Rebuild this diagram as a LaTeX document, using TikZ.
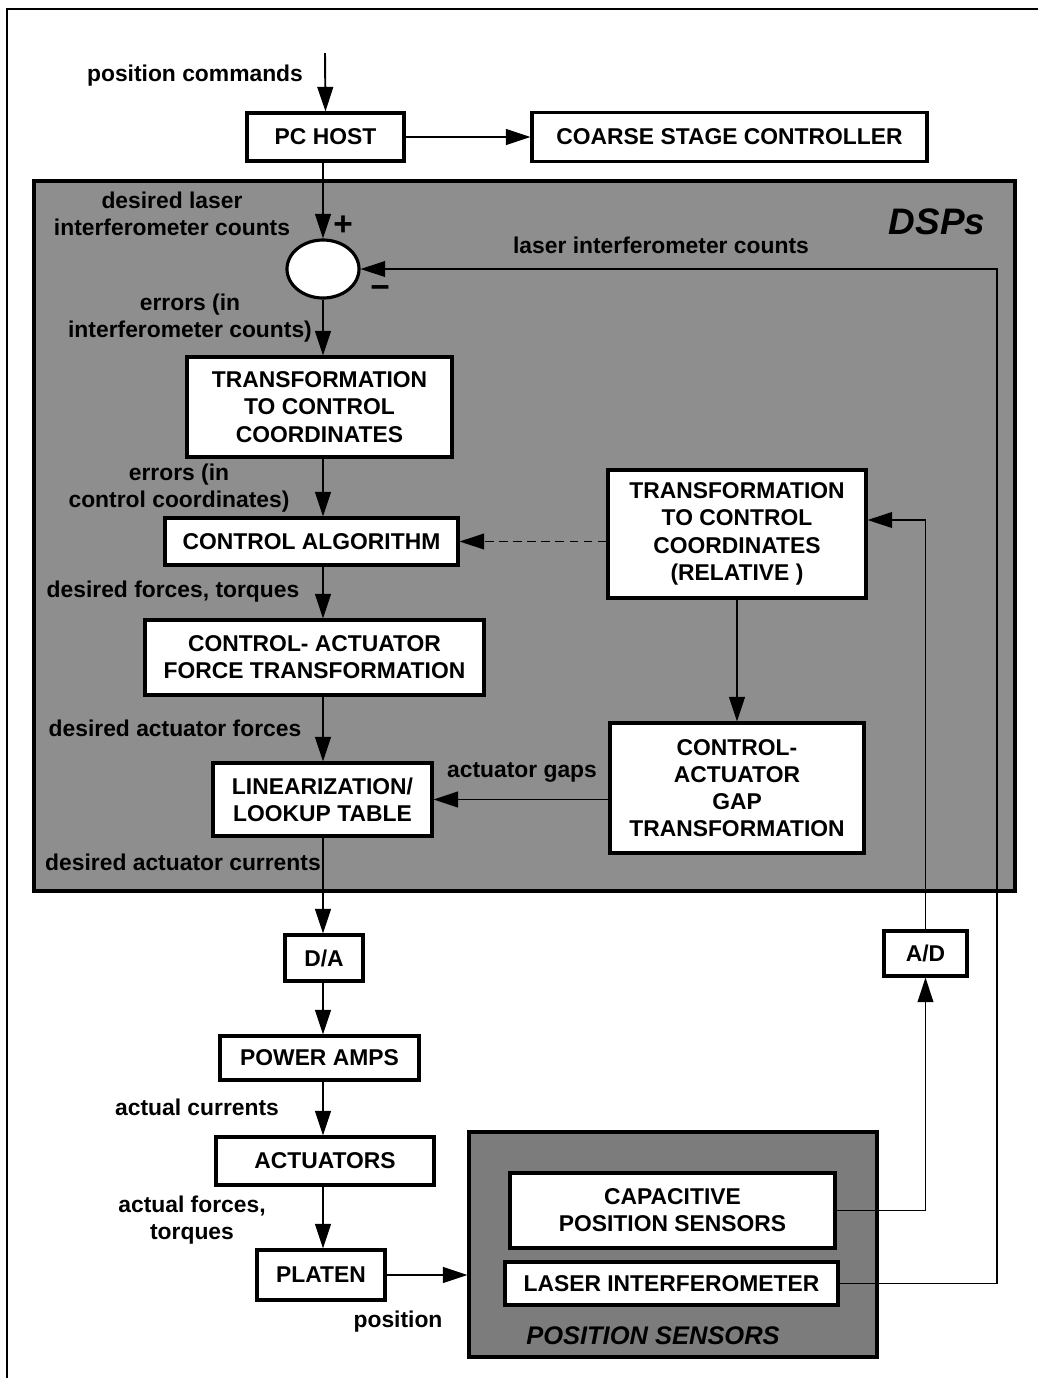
\documentclass[tikz,border=0pt]{standalone}
\usepackage{fontspec}
\setmainfont{Liberation Sans}
\usepackage{tikz}
\usetikzlibrary{arrows.meta,shapes.geometric}
\definecolor{dspgrey}{HTML}{8E8E8E}
\definecolor{sensgrey}{HTML}{7C7C7C}

\begin{document}
\begin{tikzpicture}[
  x=0.2mm, y=-0.2mm,
  font=\bfseries\fontsize{13}{15.5}\selectfont,
  box/.style={draw, line width=1.8pt, fill=white, align=center, inner sep=0pt},
  panel/.style={draw, line width=1.8pt, inner sep=0pt},
  lbl/.style={align=center, inner sep=0pt},
  sign/.style={inner sep=0pt, font=\bfseries\fontsize{19}{19}\selectfont},
  arrow/.style={-{Triangle[length=14pt,width=9pt]}, line width=1.1pt},
  feedback/.style={arrow, line width=0.8pt},
]
\useasboundingbox (0,0) rectangle (1038,1378);
\draw[line width=1.3pt] (1038,9) -| (7,1378);

% grey panels
\node[panel, fill=dspgrey, minimum width=196.2mm, minimum height=142mm] (dsp) at (524.5,536) {};
\node[font=\bfseries\itshape\fontsize{21}{24}\selectfont] (dsplbl) at (937,222) {DSPs};
\node[panel, fill=sensgrey, minimum width=81.6mm, minimum height=45mm] (sens) at (673,1244.5) {};
\node[font=\bfseries\itshape\fontsize{14.5}{17}\selectfont] (senslbl) at (653,1336) {POSITION SENSORS};

% blocks
\node[box, minimum width=31.4mm, minimum height=9.6mm] (pchost) at (325.5,137) {PC HOST};
\node[box, minimum width=79mm, minimum height=9.8mm] (coarse) at (729.5,137) {COARSE STAGE CONTROLLER};
\node[box, ellipse, minimum width=14.4mm, minimum height=11.6mm] (sum) at (323,269) {};
\node[box, minimum width=53mm, minimum height=20mm] (tcc) at (319.5,407)
  {TRANSFORMATION\\TO CONTROL\\COORDINATES};
\node[box, minimum width=58.6mm, minimum height=9.4mm] (ctrl) at (311.5,541.5) {CONTROL ALGORITHM};
\node[box, minimum width=67.8mm, minimum height=15mm] (caft) at (314.5,657.5)
  {CONTROL- ACTUATOR\\FORCE TRANSFORMATION};
\node[box, minimum width=43.8mm, minimum height=14.6mm] (lin) at (322.5,799.5)
  {LINEARIZATION/\\LOOKUP TABLE};
\node[box, minimum width=51.6mm, minimum height=25.6mm] (tccrel) at (737,534)
  {TRANSFORMATION\\TO CONTROL\\COORDINATES\\(RELATIVE )};
\node[box, minimum width=50.8mm, minimum height=26mm] (gap) at (737,788)
  {CONTROL-\\ACTUATOR\\GAP\\TRANSFORMATION};
\node[box, minimum width=15.6mm, minimum height=9.2mm] (da) at (324,958) {D/A};
\node[box, minimum width=16.6mm, minimum height=9mm] (ad) at (925.5,953.5) {A/D};
\node[box, minimum width=39.8mm, minimum height=8.8mm] (amps) at (319.5,1058) {POWER AMPS};
\node[box, minimum width=43.6mm, minimum height=9.6mm] (act) at (325,1161) {ACTUATORS};
\node[box, minimum width=25.6mm, minimum height=10mm] (platen) at (321,1275) {PLATEN};
\node[box, minimum width=65mm, minimum height=15mm] (cap) at (672.5,1210.5)
  {CAPACITIVE\\POSITION SENSORS};
\node[box, minimum width=66.6mm, minimum height=8.6mm] (laser) at (671.5,1283.5) {LASER INTERFEROMETER};

% signal labels
\node[lbl] (cmdlbl) at (195,76) {position commands};
\node[lbl] (deslbl) at (172,214) {desired laser\\interferometer counts};
\node[sign] (plus) at (343,226) {+};
\node[sign] (minus) at (380,292) {\textminus};
\node[lbl] (fblbl) at (661,245) {laser interferometer counts};
\node[lbl] (err1lbl) at (190,318) {errors (in\\interferometer counts)};
\node[lbl] (err2lbl) at (179,488) {errors (in\\control coordinates)};
\node[lbl] (frclbl) at (173,592) {desired forces, torques};
\node[lbl] (daflbl) at (175,728) {desired actuator forces};
\node[lbl] (gaplbl) at (522,772) {actuator gaps};
\node[lbl] (daclbl) at (183,862) {desired actuator currents};
\node[lbl] (curlbl) at (197,1107) {actual currents};
\node[lbl] (aftlbl) at (192,1220) {actual forces,\\torques};
\node[lbl] (poslbl) at (398,1322) {position};

% connectors
\coordinate (cmdin) at (325,53);
\coordinate (lasertap) at (997,269);
\coordinate (adtap) at (925.5,520);
\draw[arrow] (cmdin) -- (pchost.north);
\draw[arrow] (pchost.east) -- (coarse.west);
\draw[arrow] (pchost.south -| sum) -- (sum.north);
\foreach \a/\b in {sum/tcc,tcc/ctrl,ctrl/caft,caft/lin,lin/da,da/amps,amps/act,act/platen}
  \draw[arrow] (\a.south -| sum) -- (\b.north -| sum);
\draw[feedback, dash pattern=on 5pt off 3pt] (ctrl.east -| tccrel.west) -- (ctrl.east);
\draw[arrow] (tccrel.south) -- (gap.north);
\draw[arrow] (lin.east -| gap.west) -- (lin.east);
\draw[arrow] (platen.east) -- (platen.east -| sens.west);
\draw[feedback] (laser.east) -| (lasertap) |- (sum.east);
\draw[feedback] (cap.east) -| (ad.south);
\draw[feedback] (ad.north) -- (adtap) -- (adtap -| tccrel.east);
\end{tikzpicture}
\end{document}
